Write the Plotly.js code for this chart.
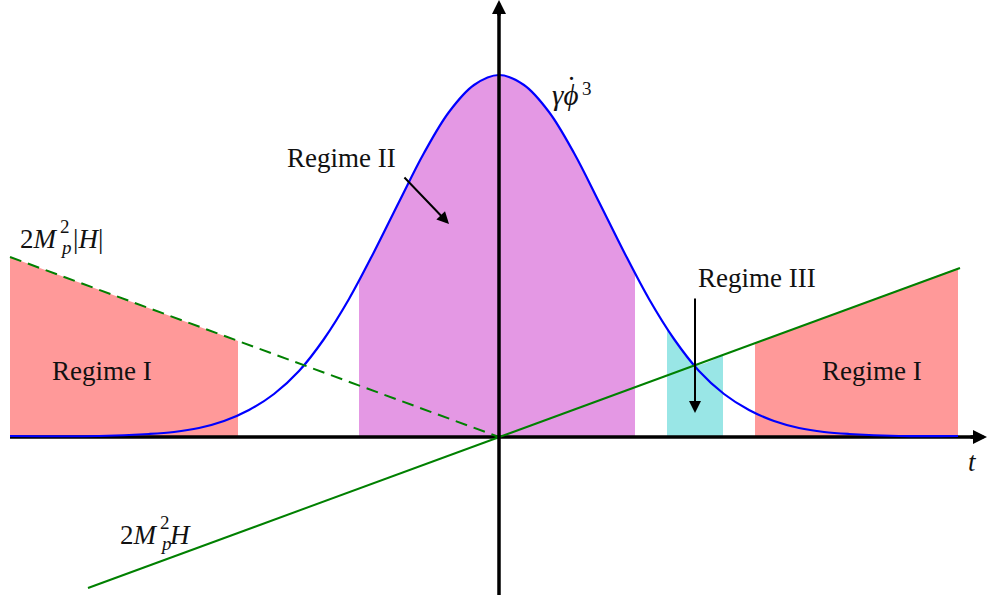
<!DOCTYPE html>
<html>
<head>
<meta charset="utf-8">
<script src="https://cdn.plot.ly/plotly-3.0.1.min.js"></script>
<style>body{margin:0;background:#fff}</style>
</head>
<body>
<div id="plot1" style="width:987px;height:595px"></div>
<script>
// curve gamma*phidot^3
var t_curve = [-4.89, -4.0, -3.5, -3.25, -3.0, -2.75, -2.5, -2.25, -2.0, -1.75, -1.5, -1.25, -1.0, -0.75, -0.5, -0.25, 0,
  0.25, 0.5, 0.75, 1.0, 1.25, 1.5, 1.75, 2.0, 2.25, 2.5, 2.75, 3.0, 3.25, 3.5, 4.0, 4.59];
var y_curve = [0.01, 0.01, 0.03, 0.05, 0.09, 0.16, 0.27, 0.43, 0.66, 0.98, 1.38, 1.85, 2.35, 2.84, 3.25, 3.52, 3.62,
  3.52, 3.25, 2.84, 2.35, 1.85, 1.38, 0.98, 0.66, 0.43, 0.27, 0.16, 0.09, 0.05, 0.03, 0.01, 0.01];

// regime II (under the curve)
var t_reg2 = [-1.4, -1.25, -1.0, -0.75, -0.5, -0.25, 0, 0.25, 0.5, 0.75, 1.0, 1.25, 1.36];
var y_reg2 = [1.56, 1.85, 2.35, 2.84, 3.25, 3.52, 3.62, 3.52, 3.25, 2.84, 2.35, 1.85, 1.63];

// regime III (under max of curve and line)
var t_reg3 = [1.68, 1.75, 1.82, 1.89, 1.96, 2.24];
var y_reg3 = [1.08, 0.98, 0.89, 0.80, 0.72, 0.82];

// regime I, left and right
var t_reg1L = [-4.89, -2.61];
var y_reg1L = [1.80, 0.96];
var t_reg1R = [2.56, 4.59];
var y_reg1R = [0.94, 1.69];

// 2Mp^2 H and its absolute value
var t_H = [-4.11, 4.61];
var y_H = [-1.51, 1.69];
var t_absH = [-4.89, 0];
var y_absH = [1.80, 0];

var serif = '"Liberation Serif", "Times New Roman", serif';
var txtFont = {family: serif, size: 27, color: '#111'};
var smallFont = {family: serif, size: 19, color: '#111'};

// pixel -> data helpers (1 unit = 100 px, origin at 499,437)
function px(v) { return (v - 499) / 100; }
function py(v) { return (437 - v) / 100; }

function draw() {
  try {
    var fillStyle = {mode: 'none', fill: 'tozeroy', hoverinfo: 'skip', showlegend: false};
    var reg1L = Object.assign({x: t_reg1L, y: y_reg1L, fillcolor: 'rgb(255,153,153)'}, fillStyle);
    var reg1R = Object.assign({x: t_reg1R, y: y_reg1R, fillcolor: 'rgb(255,153,153)'}, fillStyle);
    var reg2 = Object.assign({x: t_reg2, y: y_reg2, fillcolor: 'rgb(228,152,228)', line: {shape: 'spline'}}, fillStyle);
    var reg3 = Object.assign({x: t_reg3, y: y_reg3, fillcolor: 'rgb(153,230,230)', line: {shape: 'spline'}}, fillStyle);

    var xaxisLine = {x: [-4.89, 4.82], y: [0, 0], mode: 'lines', line: {color: 'black', width: 3.5}, showlegend: false};
    var curve = {x: t_curve, y: y_curve, mode: 'lines', line: {color: 'blue', width: 2.2, shape: 'spline'}, showlegend: false};
    var lineH = {x: t_H, y: y_H, mode: 'lines', line: {color: 'green', width: 2}, showlegend: false};
    var lineAbsH = {x: t_absH, y: y_absH, mode: 'lines', line: {color: 'green', width: 2, dash: '12px,7px'}, showlegend: false};
    var yaxisLine = {x: [0, 0], y: [-1.6, 4.3], mode: 'lines', line: {color: 'black', width: 3.5}, showlegend: false};

    var data = [reg1L, reg1R, reg2, reg3, xaxisLine, curve, lineH, lineAbsH, yaxisLine];

    function label(x, y, text, anchor, font) {
      return {x: px(x), y: py(y), xref: 'x', yref: 'y', text: text, showarrow: false,
        font: font || txtFont, xanchor: anchor || 'center', yanchor: 'middle'};
    }
    function arrow(x, y, ax, ay, w, size) {
      return {x: x, y: y, ax: ax, ay: ay, xref: 'x', yref: 'y', axref: 'x', ayref: 'y', text: '',
        showarrow: true, arrowhead: 2, arrowsize: size, arrowwidth: w, arrowcolor: 'black', standoff: 0};
    }

    var annotations = [
      label(102, 371, 'Regime I'),
      label(872, 371, 'Regime I'),
      label(341, 158, 'Regime II'),
      label(757, 278, 'Regime III'),
      // gamma phidot^3
      label(550, 95, '<i>γϕ</i>', 'left', {family: serif, size: 29, color: '#111'}),
      label(571, 79, '·', 'center'),
      label(580, 88, '3', 'left', smallFont),
      // 2 Mp^2 |H|
      label(18, 239, '2<i>M</i>', 'left'),
      label(58, 226, '2', 'left', smallFont),
      label(58, 247, '<i>p</i>', 'left', smallFont),
      label(71, 239, '|<i>H</i>|', 'left'),
      // 2 Mp^2 H
      label(118, 535, '2<i>M</i>', 'left'),
      label(158, 522, '2', 'left', smallFont),
      label(158, 543, '<i>p</i>', 'left', smallFont),
      label(167, 535, '<i>H</i>', 'left'),
      label(972, 462, '<i>t</i>'),
      arrow(-0.5, 2.13, -0.96, 2.61, 2, 1.2),
      arrow(1.96, 0.24, 1.96, 1.40, 2, 1.2),
      arrow(4.88, 0, 4.7, 0, 3.5, 0.8),
      arrow(0, 4.37, 0, 4.2, 3.5, 0.8)
    ];

    var layout = {
      width: 987, height: 595,
      margin: {l: 0, r: 0, t: 0, b: 0},
      paper_bgcolor: 'white', plot_bgcolor: 'white',
      xaxis: {range: [-4.99, 4.88], visible: false, fixedrange: true},
      yaxis: {range: [-1.58, 4.37], visible: false, fixedrange: true},
      annotations: annotations,
      showlegend: false
    };

    Plotly.newPlot('plot1', data, layout, {staticPlot: true});
  }
  catch (err) {
    console.error(err);
  }
}
draw();
</script>
</body>
</html>
